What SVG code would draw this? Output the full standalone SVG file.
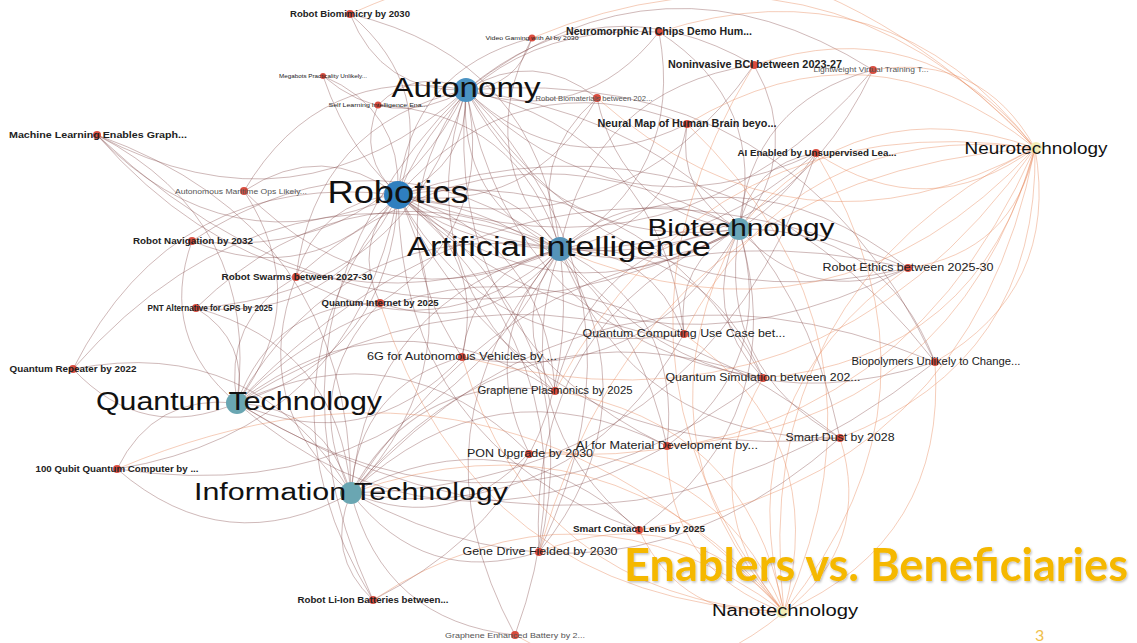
<svg xmlns="http://www.w3.org/2000/svg" width="1137" height="643" viewBox="0 0 1137 643">
<defs>
<style>
.e{stroke:#7a3c3c;stroke-opacity:.36;stroke-width:1}
.o{stroke:#e8875a;stroke-opacity:.42;stroke-width:1}
.c{fill:none}
.s{fill:#d63b2b;fill-opacity:.9}
.h{font-family:"Liberation Sans",Arial,sans-serif;fill:#111;text-anchor:middle}
.t{font-family:"Liberation Sans",Arial,sans-serif;fill:#222;text-anchor:middle}
.g{fill:#555}
.b{font-weight:bold}
</style>
<path id="p" class="c" d="M0 0Q.5 .35 1 0" vector-effect="non-scaling-stroke"/>
<path id="m" class="c" d="M0 0Q.5 -.35 1 0" vector-effect="non-scaling-stroke"/>
<filter id="sh" x="-5%" y="-20%" width="110%" height="140%"><feDropShadow dx="1" dy="1.5" stdDeviation="1.2" flood-color="#000" flood-opacity=".25"/></filter>
</defs>
<rect width="1137" height="643" fill="#fff"/>
<g id="connectors">
<g class="e">
<use href="#p" transform="matrix(-48 -181 181 -48 398 195)"/>
<use href="#m" transform="matrix(134 -157 157 134 398 195)"/>
<use href="#p" transform="matrix(-75 -119 119 -75 398 195)"/>
<use href="#m" transform="matrix(-20 -90 90 -20 398 195)"/>
<use href="#p" transform="matrix(199 -97 97 199 398 195)"/>
<use href="#m" transform="matrix(-301 -60 60 -301 398 195)"/>
<use href="#p" transform="matrix(-154 -4 4 -154 398 195)"/>
<use href="#m" transform="matrix(-206 46 -46 -206 398 195)"/>
<use href="#p" transform="matrix(-102 82 -82 -102 398 195)"/>
<use href="#m" transform="matrix(-202 113 -113 -202 398 195)"/>
<use href="#p" transform="matrix(-18 108 -108 -18 398 195)"/>
<use href="#p" transform="matrix(510 73 -73 510 398 195)"/>
<use href="#m" transform="matrix(64 162 -162 64 398 195)"/>
<use href="#m" transform="matrix(537 167 -167 537 398 195)"/>
<use href="#p" transform="matrix(286 139 -139 286 398 195)"/>
<use href="#m" transform="matrix(157 196 -196 157 398 195)"/>
<use href="#p" transform="matrix(442 243 -243 442 398 195)"/>
<use href="#m" transform="matrix(269 251 -251 269 398 195)"/>
<use href="#p" transform="matrix(-25 405 -405 -25 398 195)"/>
<use href="#m" transform="matrix(117 440 -440 117 398 195)"/>
<use href="#p" transform="matrix(241 335 -335 241 398 195)"/>
<use href="#m" transform="matrix(141 357 -357 141 398 195)"/>
<use href="#p" transform="matrix(356 -130 130 356 398 195)"/>
<use href="#m" transform="matrix(289 -71 71 289 398 195)"/>
<use href="#p" transform="matrix(475 -125 125 475 398 195)"/>
<use href="#m" transform="matrix(261 -163 163 261 398 195)"/>
<use href="#p" transform="matrix(418 -42 42 418 398 195)"/>
<use href="#m" transform="matrix(365 183 -183 365 398 195)"/>
<use href="#p" transform="matrix(-325 174 -174 -325 398 195)"/>
<use href="#m" transform="matrix(-281 274 -274 -281 398 195)"/>
<use href="#m" transform="matrix(-116 -76 76 -116 466 90)"/>
<use href="#p" transform="matrix(66 -52 52 66 466 90)"/>
<use href="#m" transform="matrix(-143 -14 14 -143 466 90)"/>
<use href="#p" transform="matrix(-88 15 -15 -88 466 90)"/>
<use href="#m" transform="matrix(-369 45 -45 -369 466 90)"/>
<use href="#p" transform="matrix(-222 101 -101 -222 466 90)"/>
<use href="#m" transform="matrix(-274 151 -151 -274 466 90)"/>
<use href="#p" transform="matrix(-170 187 -187 -170 466 90)"/>
<use href="#m" transform="matrix(-270 218 -218 -270 466 90)"/>
<use href="#p" transform="matrix(-4 267 -267 -4 466 90)"/>
<use href="#m" transform="matrix(-86 213 -213 -86 466 90)"/>
<use href="#p" transform="matrix(221 34 -34 221 466 90)"/>
<use href="#m" transform="matrix(288 -25 25 288 466 90)"/>
<use href="#p" transform="matrix(193 -58 58 193 466 90)"/>
<use href="#m" transform="matrix(131 8 -8 131 466 90)"/>
<use href="#p" transform="matrix(350 63 -63 350 466 90)"/>
<use href="#m" transform="matrix(407 -20 20 407 466 90)"/>
<use href="#p" transform="matrix(442 178 -178 442 466 90)"/>
<use href="#m" transform="matrix(218 244 -244 218 466 90)"/>
<use href="#p" transform="matrix(89 301 -301 89 466 90)"/>
<use href="#m" transform="matrix(374 348 -348 374 466 90)"/>
<use href="#p" transform="matrix(201 356 -356 201 466 90)"/>
<use href="#m" transform="matrix(469 272 -272 469 466 90)"/>
<use href="#p" transform="matrix(297 288 -288 297 466 90)"/>
<use href="#m" transform="matrix(73 462 -462 73 466 90)"/>
<use href="#p" transform="matrix(-93 510 -510 -93 466 90)"/>
<use href="#p" transform="matrix(-210 -235 235 -210 560 249)"/>
<use href="#m" transform="matrix(-28 -211 211 -28 560 249)"/>
<use href="#p" transform="matrix(99 -217 217 99 560 249)"/>
<use href="#m" transform="matrix(194 -184 184 194 560 249)"/>
<use href="#p" transform="matrix(313 -179 179 313 560 249)"/>
<use href="#m" transform="matrix(-237 -173 173 -237 560 249)"/>
<use href="#p" transform="matrix(-182 -144 144 -182 560 249)"/>
<use href="#m" transform="matrix(37 -151 151 37 560 249)"/>
<use href="#p" transform="matrix(127 -125 125 127 560 249)"/>
<use href="#m" transform="matrix(-463 -114 114 -463 560 249)"/>
<use href="#p" transform="matrix(256 -96 96 256 560 249)"/>
<use href="#m" transform="matrix(-316 -58 58 -316 560 249)"/>
<use href="#p" transform="matrix(-368 -8 8 -368 560 249)"/>
<use href="#m" transform="matrix(124 85 -85 124 560 249)"/>
<use href="#p" transform="matrix(-5 142 -142 -5 560 249)"/>
<use href="#m" transform="matrix(107 197 -197 107 560 249)"/>
<use href="#p" transform="matrix(280 189 -189 280 560 249)"/>
<use href="#m" transform="matrix(348 19 -19 348 560 249)"/>
<use href="#p" transform="matrix(375 113 -113 375 560 249)"/>
<use href="#m" transform="matrix(203 129 -129 203 560 249)"/>
<use href="#p" transform="matrix(79 281 -281 79 560 249)"/>
<use href="#m" transform="matrix(-21 303 -303 -21 560 249)"/>
<use href="#p" transform="matrix(-98 108 -108 -98 560 249)"/>
<use href="#m" transform="matrix(-264 28 -28 -264 560 249)"/>
<use href="#p" transform="matrix(-364 59 -59 -364 560 249)"/>
<use href="#m" transform="matrix(-180 54 -54 -180 560 249)"/>
<use href="#p" transform="matrix(-31 204 -204 -31 560 249)"/>
<use href="#m" transform="matrix(-443 220 -220 -443 560 249)"/>
<use href="#p" transform="matrix(-487 120 -120 -487 560 249)"/>
<use href="#m" transform="matrix(-187 351 -351 -187 560 249)"/>
<use href="#p" transform="matrix(-45 386 -386 -45 560 249)"/>
<use href="#m" transform="matrix(-52 -105 105 -52 739 229)"/>
<use href="#p" transform="matrix(15 -164 164 15 739 229)"/>
<use href="#m" transform="matrix(77 -76 76 77 739 229)"/>
<use href="#p" transform="matrix(169 39 -39 169 739 229)"/>
<use href="#m" transform="matrix(196 133 -133 196 739 229)"/>
<use href="#p" transform="matrix(-200 323 -323 -200 739 229)"/>
<use href="#m" transform="matrix(-100 301 -301 -100 739 229)"/>
<use href="#p" transform="matrix(101 209 -209 101 739 229)"/>
<use href="#m" transform="matrix(-142 -131 131 -142 739 229)"/>
<use href="#p" transform="matrix(24 149 -149 24 739 229)"/>
<use href="#m" transform="matrix(-72 217 -217 -72 739 229)"/>
<use href="#p" transform="matrix(-184 162 -162 -184 739 229)"/>
<use href="#m" transform="matrix(-277 128 -128 -277 739 229)"/>
<use href="#p" transform="matrix(-80 -197 197 -80 739 229)"/>
<use href="#m" transform="matrix(134 -159 159 134 739 229)"/>
<use href="#p" transform="matrix(-55 105 -105 -55 739 229)"/>
<use href="#m" transform="matrix(-642 -94 94 -642 739 229)"/>
<use href="#p" transform="matrix(-443 48 -48 -443 739 229)"/>
<use href="#m" transform="matrix(-164 -34 34 -164 237 403)"/>
<use href="#p" transform="matrix(-120 66 -66 -120 237 403)"/>
<use href="#m" transform="matrix(143 -100 100 143 237 403)"/>
<use href="#p" transform="matrix(-41 -95 95 -41 237 403)"/>
<use href="#m" transform="matrix(447 -69 69 447 237 403)"/>
<use href="#p" transform="matrix(526 -25 25 526 237 403)"/>
<use href="#m" transform="matrix(318 -12 12 318 237 403)"/>
<use href="#p" transform="matrix(-140 -268 268 -140 237 403)"/>
<use href="#m" transform="matrix(-45 -162 162 -45 237 403)"/>
<use href="#p" transform="matrix(225 -46 46 225 237 403)"/>
<use href="#m" transform="matrix(292 50 -50 292 237 403)"/>
<use href="#p" transform="matrix(430 43 -43 430 237 403)"/>
<use href="#m" transform="matrix(603 35 -35 603 237 403)"/>
<use href="#p" transform="matrix(7 -212 212 7 237 403)"/>
<use href="#m" transform="matrix(59 -126 126 59 237 403)"/>
<use href="#p" transform="matrix(698 -41 41 698 237 403)"/>
<use href="#m" transform="matrix(671 -135 135 671 237 403)"/>
<use href="#m" transform="matrix(-234 -24 24 -234 351 493)"/>
<use href="#p" transform="matrix(-278 -124 124 -278 351 493)"/>
<use href="#m" transform="matrix(111 -136 136 111 351 493)"/>
<use href="#p" transform="matrix(178 -40 40 178 351 493)"/>
<use href="#m" transform="matrix(204 -102 102 204 351 493)"/>
<use href="#p" transform="matrix(333 -159 159 333 351 493)"/>
<use href="#m" transform="matrix(412 -115 115 412 351 493)"/>
<use href="#p" transform="matrix(489 -55 55 489 351 493)"/>
<use href="#m" transform="matrix(316 -47 47 316 351 493)"/>
<use href="#p" transform="matrix(-254 -358 358 -254 351 493)"/>
<use href="#m" transform="matrix(-55 -216 216 -55 351 493)"/>
<use href="#p" transform="matrix(-155 -185 185 -155 351 493)"/>
<use href="#m" transform="matrix(29 -190 190 29 351 493)"/>
<use href="#p" transform="matrix(188 59 -59 188 351 493)"/>
<use href="#m" transform="matrix(288 37 -37 288 351 493)"/>
<use href="#p" transform="matrix(22 107 -107 22 351 493)"/>
<use href="#m" transform="matrix(584 -131 131 584 351 493)"/>
<use href="#p" transform="matrix(164 142 -142 164 351 493)"/>
<use href="#m" transform="matrix(557 -225 225 557 351 493)"/>
<use href="#p" transform="matrix(465 -340 340 465 351 493)"/>
<use href="#p" transform="matrix(68 -105 105 68 398 195)"/>
<use href="#m" transform="matrix(162 54 -54 162 398 195)"/>
<use href="#p" transform="matrix(94 159 -159 94 466 90)"/>
<use href="#m" transform="matrix(179 -20 20 179 560 249)"/>
<use href="#p" transform="matrix(273 139 -139 273 466 90)"/>
<use href="#p" transform="matrix(341 34 -34 341 398 195)"/>
<use href="#m" transform="matrix(114 90 -90 114 237 403)"/>
<use href="#m" transform="matrix(-161 208 -208 -161 398 195)"/>
<use href="#m" transform="matrix(-47 298 -298 -47 398 195)"/>
<use href="#p" transform="matrix(-323 154 -154 -323 560 249)"/>
<use href="#p" transform="matrix(-209 244 -244 -209 560 249)"/>
</g>
<g class="o">
<use href="#p" transform="matrix(-348 -24 24 -348 1035 148)"/>
<use href="#p" transform="matrix(-281 -83 83 -281 1035 148)"/>
<use href="#p" transform="matrix(-162 -78 78 -162 1035 148)"/>
<use href="#m" transform="matrix(-219 5 -5 -219 1035 148)"/>
<use href="#p" transform="matrix(-376 -116 116 -376 1035 148)"/>
<use href="#m" transform="matrix(-127 120 -120 -127 1035 148)"/>
<use href="#m" transform="matrix(-195 290 -290 -195 1035 148)"/>
<use href="#m" transform="matrix(-368 298 -298 -368 1035 148)"/>
<use href="#p" transform="matrix(-480 243 -243 -480 1035 148)"/>
<use href="#m" transform="matrix(-272 230 -230 -272 1035 148)"/>
<use href="#m" transform="matrix(-100 214 -214 -100 1035 148)"/>
<use href="#p" transform="matrix(-503 -110 110 -503 1035 148)"/>
<use href="#m" transform="matrix(-396 382 -382 -396 1035 148)"/>
<use href="#m" transform="matrix(-438 -50 50 -438 1035 148)"/>
<use href="#p" transform="matrix(-351 186 -186 -351 1035 148)"/>
<use href="#m" transform="matrix(-573 209 -209 -573 1035 148)"/>
<use href="#p" transform="matrix(-496 404 -404 -496 1035 148)"/>
<use href="#p" transform="matrix(-685 -134 134 -685 1035 148)"/>
<use href="#m" transform="matrix(-506 305 -305 -506 1035 148)"/>
<use href="#p" transform="matrix(-296 81 -81 -296 1035 148)"/>
<use href="#m" transform="matrix(-475 101 -101 -475 1035 148)"/>
<use href="#m" transform="matrix(-145 -82 82 -145 784 612)"/>
<use href="#p" transform="matrix(-245 -60 60 -245 784 612)"/>
<use href="#m" transform="matrix(-269 23 -23 -269 784 612)"/>
<use href="#p" transform="matrix(56 -174 174 56 784 612)"/>
<use href="#m" transform="matrix(-117 -166 166 -117 784 612)"/>
<use href="#p" transform="matrix(-229 -221 221 -229 784 612)"/>
<use href="#m" transform="matrix(-21 -234 234 -21 784 612)"/>
<use href="#p" transform="matrix(151 -250 250 151 784 612)"/>
<use href="#m" transform="matrix(124 -344 344 124 784 612)"/>
<use href="#p" transform="matrix(-255 -159 159 -255 784 612)"/>
<use href="#p" transform="matrix(-411 -12 12 -411 784 612)"/>
<use href="#p" transform="matrix(-100 -278 278 -100 784 612)"/>
<use href="#m" transform="matrix(-322 -255 255 -322 784 612)"/>
<use href="#p" transform="matrix(32 -459 459 32 784 612)"/>
<use href="#m" transform="matrix(-404 -309 309 -404 784 612)"/>
<use href="#p" transform="matrix(-667 -143 143 -667 784 612)"/>
<use href="#m" transform="matrix(-30 -547 547 -30 784 612)"/>
<use href="#p" transform="matrix(-97 -488 488 -97 784 612)"/>
<use href="#m" transform="matrix(-45 -383 383 -45 784 612)"/>
<use href="#p" transform="matrix(-433 -119 119 -433 784 612)"/>
<use href="#m" transform="matrix(251 -464 464 251 784 612)"/>
</g>
</g>
<g id="nodes">
<g id="n-rbio"><circle class="s" cx="350" cy="14" r="4"/><text class="t b" x="350" y="17" font-size="9.5" textLength="120" lengthAdjust="spacingAndGlyphs">Robot Biomimicry by 2030</text></g>
<g id="n-vg"><circle class="s" cx="532" cy="38" r="3.5"/><text class="t" x="532" y="40" font-size="6" textLength="93" lengthAdjust="spacingAndGlyphs">Video Gaming with AI by 2030</text></g>
<g id="n-nc"><circle class="s" cx="659" cy="32" r="4"/><text class="t b" x="659" y="35" font-size="10" textLength="186" lengthAdjust="spacingAndGlyphs">Neuromorphic AI Chips Demo Hum...</text></g>
<g id="n-bci"><circle class="s" cx="754" cy="65" r="4"/><text class="t b" x="755" y="68" font-size="10" textLength="174" lengthAdjust="spacingAndGlyphs">Noninvasive BCI between 2023-27</text></g>
<g id="n-lvt"><circle class="s" cx="873" cy="70" r="4"/><text class="t g" x="871" y="72" font-size="7.5" textLength="115" lengthAdjust="spacingAndGlyphs">Lightweight Virtual Training T...</text></g>
<g id="n-mega"><circle class="s" cx="323" cy="76" r="3"/><text class="t" x="323" y="78" font-size="5.5" textLength="88" lengthAdjust="spacingAndGlyphs">Megabots Practicality Unlikely...</text></g>
<g id="n-self"><circle class="s" cx="378" cy="105" r="3.5"/><text class="t" x="378" y="107" font-size="6" textLength="99" lengthAdjust="spacingAndGlyphs">Self Learning Intelligence Ena...</text></g>
<g id="n-rbm"><circle class="s" cx="597" cy="98" r="4"/><text class="t g" x="594" y="101" font-size="7.5" textLength="117" lengthAdjust="spacingAndGlyphs">Robot Biomaterials between 202...</text></g>
<g id="n-nmap"><circle class="s" cx="687" cy="124" r="4"/><text class="t b" x="687" y="127" font-size="10" textLength="179" lengthAdjust="spacingAndGlyphs">Neural Map of Human Brain beyo...</text></g>
<g id="n-ml"><circle class="s" cx="97" cy="135" r="4"/><text class="t b" x="98" y="138" font-size="9.5" textLength="178" lengthAdjust="spacingAndGlyphs">Machine Learning Enables Graph...</text></g>
<g id="n-aiu"><circle class="s" cx="816" cy="153" r="4"/><text class="t b" x="817" y="156" font-size="9" textLength="159" lengthAdjust="spacingAndGlyphs">AI Enabled by Unsupervised Lea...</text></g>
<g id="n-amo"><circle class="s" cx="244" cy="191" r="4"/><text class="t g" x="241" y="194" font-size="8" textLength="132" lengthAdjust="spacingAndGlyphs">Autonomous Maritime Ops Likely...</text></g>
<g id="n-rnav"><circle class="s" cx="192" cy="241" r="4"/><text class="t b" x="193" y="244" font-size="9.5" textLength="120" lengthAdjust="spacingAndGlyphs">Robot Navigation by 2032</text></g>
<g id="n-rsw"><circle class="s" cx="296" cy="277" r="4"/><text class="t b" x="297" y="280" font-size="9.5" textLength="151" lengthAdjust="spacingAndGlyphs">Robot Swarms between 2027-30</text></g>
<g id="n-pnt"><circle class="s" cx="196" cy="308" r="4"/><text class="t b" x="210" y="311" font-size="9" textLength="125" lengthAdjust="spacingAndGlyphs">PNT Alternative for GPS by 2025</text></g>
<g id="n-qi"><circle class="s" cx="380" cy="303" r="4"/><text class="t b" x="380" y="306" font-size="9" textLength="117" lengthAdjust="spacingAndGlyphs">Quantum Internet by 2025</text></g>
<g id="n-reth"><circle class="s" cx="908" cy="268" r="4"/><text class="t" x="908" y="271" font-size="10.5" textLength="171" lengthAdjust="spacingAndGlyphs">Robot Ethics between 2025-30</text></g>
<g id="n-qcu"><circle class="s" cx="684" cy="334" r="4"/><text class="t" x="684" y="337" font-size="10.5" textLength="203" lengthAdjust="spacingAndGlyphs">Quantum Computing Use Case bet...</text></g>
<g id="n-6g"><circle class="s" cx="462" cy="357" r="4"/><text class="t" x="462" y="360" font-size="10.5" textLength="190" lengthAdjust="spacingAndGlyphs">6G for Autonomous Vehicles by ...</text></g>
<g id="n-biop"><circle class="s" cx="935" cy="362" r="4"/><text class="t" x="936" y="365" font-size="10" textLength="169" lengthAdjust="spacingAndGlyphs">Biopolymers Unlikely to Change...</text></g>
<g id="n-qr"><circle class="s" cx="73" cy="369" r="4"/><text class="t b" x="73" y="372" font-size="8.5" textLength="127" lengthAdjust="spacingAndGlyphs">Quantum Repeater by 2022</text></g>
<g id="n-qsim"><circle class="s" cx="763" cy="378" r="4"/><text class="t" x="763" y="381" font-size="10.5" textLength="195" lengthAdjust="spacingAndGlyphs">Quantum Simulation between 202...</text></g>
<g id="n-gp"><circle class="s" cx="555" cy="391" r="4"/><text class="t" x="555" y="394" font-size="10" textLength="155" lengthAdjust="spacingAndGlyphs">Graphene Plasmonics by 2025</text></g>
<g id="n-sd"><circle class="s" cx="840" cy="438" r="4"/><text class="t" x="840" y="441" font-size="10.5" textLength="109" lengthAdjust="spacingAndGlyphs">Smart Dust by 2028</text></g>
<g id="n-aim"><circle class="s" cx="667" cy="446" r="4"/><text class="t" x="667" y="449" font-size="10.5" textLength="182" lengthAdjust="spacingAndGlyphs">AI for Material Development by...</text></g>
<g id="n-pon"><circle class="s" cx="529" cy="454" r="4"/><text class="t" x="530" y="457" font-size="10.5" textLength="126" lengthAdjust="spacingAndGlyphs">PON Upgrade by 2030</text></g>
<g id="n-100q"><circle class="s" cx="117" cy="469" r="4"/><text class="t b" x="117" y="472" font-size="8.5" textLength="163" lengthAdjust="spacingAndGlyphs">100 Qubit Quantum Computer by ...</text></g>
<g id="n-scl"><circle class="s" cx="639" cy="530" r="4"/><text class="t b" x="639" y="532" font-size="9.5" textLength="132" lengthAdjust="spacingAndGlyphs">Smart Contact Lens by 2025</text></g>
<g id="n-gd"><circle class="s" cx="539" cy="552" r="4"/><text class="t" x="540" y="555" font-size="10.5" textLength="155" lengthAdjust="spacingAndGlyphs">Gene Drive Fielded by 2030</text></g>
<g id="n-rli"><circle class="s" cx="373" cy="600" r="4"/><text class="t b" x="373" y="603" font-size="9.5" textLength="151" lengthAdjust="spacingAndGlyphs">Robot Li-Ion Batteries between...</text></g>
<g id="n-geb"><circle class="s" cx="515" cy="635" r="4"/><text class="t g" x="515" y="638" font-size="7.5" textLength="140" lengthAdjust="spacingAndGlyphs">Graphene Enhanced Battery by 2...</text></g>
<g id="n-autonomy"><circle cx="466" cy="90" r="12" fill="#4a92c2"/><text class="h" x="466" y="97" font-size="28" textLength="149" lengthAdjust="spacingAndGlyphs">Autonomy</text></g>
<g id="n-robotics"><circle cx="398" cy="195" r="14" fill="#2f7fbf"/><text class="h" x="398" y="203" font-size="32" textLength="141" lengthAdjust="spacingAndGlyphs">Robotics</text></g>
<g id="n-ai"><circle cx="560" cy="249" r="12" fill="#5593b8"/><text class="h" x="559" y="256" font-size="27" textLength="304" lengthAdjust="spacingAndGlyphs">Artificial Intelligence</text></g>
<g id="n-biotech"><circle cx="739" cy="229" r="11" fill="#6aa6b8"/><text class="h" x="741" y="236" font-size="24" textLength="187" lengthAdjust="spacingAndGlyphs">Biotechnology</text></g>
<g id="n-qt"><circle cx="237" cy="403" r="11" fill="#6aa6b2"/><text class="h" x="239" y="410" font-size="25" textLength="286" lengthAdjust="spacingAndGlyphs">Quantum Technology</text></g>
<g id="n-it"><circle cx="351" cy="493" r="11" fill="#6aa6b2"/><text class="h" x="351" y="500" font-size="23" textLength="314" lengthAdjust="spacingAndGlyphs">Information Technology</text></g>
<g id="n-neuro"><circle cx="1036" cy="148" r="6" fill="#f2edb8"/><text class="h" x="1036" y="154" font-size="16" textLength="143" lengthAdjust="spacingAndGlyphs">Neurotechnology</text></g>
<g id="n-nano"><circle cx="782" cy="612" r="6" fill="#f2edb8"/><text class="h" x="785" y="616" font-size="16" textLength="146" lengthAdjust="spacingAndGlyphs">Nanotechnology</text></g>
</g>
<text x="624" y="581" font-family="Lato,'Open Sans',sans-serif" font-weight="bold" font-size="46" fill="#f5b800" textLength="504" lengthAdjust="spacingAndGlyphs" filter="url(#sh)">Enablers vs. Beneficiaries</text>
<text x="1035" y="641" font-family="Lato,'Open Sans',sans-serif" font-size="16" fill="#f0c04a">3</text>
</svg>
